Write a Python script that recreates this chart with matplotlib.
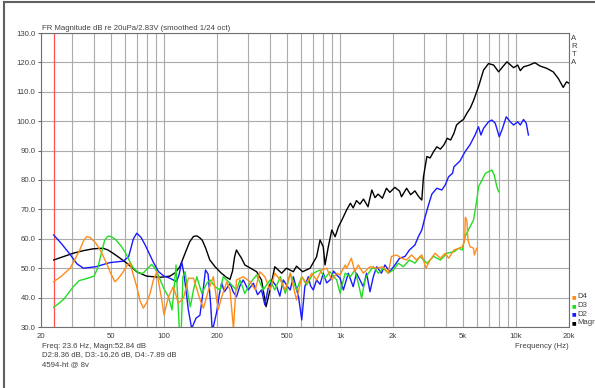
import numpy as np
import matplotlib
matplotlib.use("Agg")
import matplotlib.pyplot as plt
from matplotlib.lines import Line2D

plt.rcParams['font.family'] = ['Liberation Sans', 'DejaVu Sans']

# Magnitude (black)
magn_f = [23.6, 27, 30.5, 35, 39.6, 45, 48, 51.3, 56, 61.5, 70, 79.5, 95, 108, 116, 123, 134, 140, 147,
          153.6, 160, 165, 172, 182, 195, 210, 225, 237, 245, 252, 258, 265, 275, 288, 310, 336, 358,
          380, 400, 426, 466, 496, 543, 566, 613, 676, 736, 770, 803, 822, 858, 898, 938, 980, 1025,
          1090, 1145, 1188, 1240, 1298, 1360, 1442, 1516, 1580, 1645, 1740, 1836, 1918, 2050, 2180,
          2236, 2389, 2520, 2664, 2780, 2850, 2915, 2980, 3116, 3250, 3398, 3548, 3718, 3900, 4065,
          4250, 4440, 4592, 4810, 5030, 5256, 5500, 5734, 6120, 6540, 6980, 7460, 7960, 8400, 8880,
          9690, 10220, 10580, 11030, 11800, 12800, 13660, 14920, 16260, 17360, 18540, 19370, 20000]
magn_db = [52.8, 54.0, 55.1, 56.0, 56.6, 56.8, 56.2, 55.1, 53.5, 51.7, 48.8, 47.3, 46.9, 47.3, 48.5, 50.5, 56.2, 59.0, 60.8,
           61.0, 60.3, 59.5, 57.0, 52.8, 50.5, 48.5, 47.0, 46.2, 49.0, 54.0, 56.2, 55.0, 53.5, 51.1, 50.0, 48.8, 46.0,
           36.9, 42.6, 50.5, 48.3, 50.0, 48.8, 50.7, 48.8, 50.0, 53.9, 59.6, 57.3, 51.1, 57.3, 63.0, 60.7, 64.1, 66.4,
           69.8, 72.1, 70.5, 73.0, 71.8, 73.5, 70.9, 76.6, 74.0, 75.2, 73.8, 77.2, 75.8, 77.5, 76.2,
           74.3, 77.2, 75.0, 76.3, 74.6, 73.8, 73.2, 81.1, 88.0, 87.5, 89.6, 91.3, 90.5, 92.0, 94.2,
           93.6, 95.9, 98.7, 99.8, 100.6, 102.7, 104.5, 107.0, 111.7, 117.4, 119.6, 119.1, 116.8, 118.5, 120.2,
           118.2, 119.1, 117.2, 118.5, 119.0, 119.9, 118.8, 118.0, 116.8, 114.6, 111.5, 113.4, 112.9]

# D2 (blue)
d2_f = [23.6, 26, 29, 32, 34.8, 41, 49.2, 58.7, 62.9, 65, 67, 70, 74, 78, 81.5, 87, 93.1, 100, 108, 118,
        122, 126, 129, 131.8, 137.5, 143.6, 152, 160, 165, 172, 178, 184, 188, 199, 206, 212.7, 220,
        227.5, 237, 247, 258, 270, 282, 301, 322, 340, 358, 374, 390, 409, 437, 455, 476, 500, 521, 543,
        581, 606, 631, 660, 680, 705, 736, 770, 803, 840, 877, 920, 957, 1000, 1045, 1114, 1188, 1240,
        1298, 1356, 1416, 1480, 1546, 1615, 1720, 1798, 1918, 2050, 2180, 2340, 2480, 2664, 2786, 2915,
        3045, 3182, 3325, 3548, 3790, 3960, 4140, 4360, 4440, 4810, 5130, 5480, 5850, 6120, 6320, 6540,
        6980, 7290, 7620, 8030, 8320, 8800, 9270, 9690, 10220, 10580, 11030, 11430, 11760]
d2_db = [61.3, 58.5, 55.0, 51.5, 50.0, 50.5, 51.9, 52.4, 53.9, 57.0, 60.0, 61.9, 60.5, 58.0, 55.6, 52.0, 48.8, 47.3, 46.6, 45.4,
         48.0, 52.2, 49.0, 44.9, 35.8, 29.5, 33.0, 34.0, 40.0, 49.4, 48.0, 38.0, 28.5, 35.0, 41.0, 45.0, 42.0,
         43.2, 44.9, 42.0, 40.3, 44.0, 46.0, 42.6, 44.9, 41.0, 42.6, 37.5, 43.0, 46.0, 43.7, 40.5, 46.0, 44.0, 42.6, 47.1,
         40.3, 32.4, 43.7, 47.1, 44.0, 42.6, 46.0, 44.5, 48.3, 45.0, 46.0, 49.0, 47.7, 46.6, 42.6, 48.3, 43.7, 48.3,
         46.0, 43.7, 48.3, 42.0, 47.1, 50.5, 48.3, 51.1, 48.8, 51.1, 53.4, 54.0, 56.2, 57.9, 60.7, 63.0,
         67.5, 71.5, 75.2, 77.2, 76.6, 78.3, 81.1, 82.3, 84.5, 86.5, 89.6, 92.0, 95.3, 98.1, 95.3, 97.6,
         99.8, 100.4, 99.3, 94.7, 97.0, 101.5, 99.8, 98.7, 99.8, 98.7, 100.6, 99.3, 95.3]

# D3 (green)
d3_f = [23.6, 25, 27, 30.5, 33, 37, 40, 42, 44, 46, 48, 50, 53, 57, 60, 64, 67, 72, 76, 81, 85, 88,
        91, 99.5, 106, 111, 113, 117, 122, 125, 128, 131.8, 137.5, 141, 147, 153.6, 164, 175, 182.6,
        194.8, 208, 217, 237, 258, 270, 288, 308, 336, 366, 400, 426, 458, 489, 521, 566, 606, 646, 705,
        770, 822, 877, 957, 1000, 1070, 1145, 1214, 1270, 1327, 1386, 1449, 1546, 1650, 1760, 1880,
        2008, 2144, 2290, 2480, 2664, 2850, 3116, 3398, 3718, 4065, 4440, 4740, 4960, 5130, 5480, 5734,
        5990, 6120, 6410, 6700, 6980, 7290, 7520, 7780, 7960]
d3_db = [36.7, 37.8, 39.5, 43.7, 45.8, 46.6, 47.3, 50.0, 55.0, 59.5, 60.9, 60.8, 59.8, 57.5, 55.6, 52.2, 50.0, 48.3, 48.3, 50.0, 51.3, 50.3,
         48.8, 43.2, 40.3, 35.8, 40.3, 51.1, 30.1, 27.0, 47.1, 48.8, 40.3, 36.9, 42.6, 47.1, 41.4, 44.9, 46.0,
         43.7, 42.6, 47.1, 44.9, 42.6, 46.0, 41.4, 44.9, 47.7, 42.6, 46.0, 42.6, 47.1, 41.4, 48.3, 42.6, 47.1, 44.3, 48.3,
         49.4, 46.6, 48.8, 46.0, 41.5, 48.3, 47.1, 49.4, 44.9, 39.8, 46.0, 48.3, 50.5, 48.3, 50.0, 48.3,
         49.4, 51.7, 50.5, 52.8, 51.7, 54.0, 51.7, 54.0, 52.8, 55.1, 55.6, 56.8, 56.2, 60.7, 64.1, 66.4,
         73.2, 77.7, 80.0, 82.3, 82.8, 83.4, 81.7, 77.7, 76.0]

# D4 (orange)
d4_f = [23.6, 26, 29.3, 31.5, 33.2, 35, 36.3, 38, 41, 44, 47.1, 50, 52.6, 55, 58.7, 62, 64.1, 66, 70,
        73, 76.3, 80, 83.3, 87, 91, 97.1, 100, 106, 113, 120.7, 129, 137.5, 147, 160.4, 167.5, 179,
        190.6, 203, 212.7, 227.5, 237, 248, 258, 282, 308, 330, 350, 374, 400, 426, 458, 489, 521, 566,
        606, 646, 690, 736, 786, 840, 898, 957, 1000, 1070, 1090, 1160, 1214, 1270, 1356, 1480, 1615,
        1760, 1880, 1960, 2094, 2236, 2389, 2550, 2722, 2915, 3080, 3250, 3470, 3718, 3960, 4140, 4440,
        4740, 4960, 5110, 5150, 5256, 5330, 5480, 5734, 5800, 5990]
d4_db = [45.4, 47.2, 50.0, 53.5, 56.2, 59.5, 60.7, 60.5, 58.5, 55.5, 51.7, 48.0, 45.4, 46.5, 48.8, 51.3, 51.7, 49.0, 43.7,
         39.0, 36.4, 38.5, 41.4, 46.0, 48.8, 39.2, 34.1, 40.3, 43.7, 38.1, 39.8, 46.6, 46.6, 39.2, 36.4, 42.6,
         47.1, 35.8, 40.3, 45.4, 42.6, 29.5, 46.0, 47.1, 45.4, 42.6, 48.8, 47.1, 42.6, 48.3, 46.0, 42.6, 48.3, 39.2,
         47.1, 44.9, 48.3, 46.0, 49.4, 50.0, 46.0, 48.3, 47.7, 51.1, 50.0, 53.4, 48.8, 51.1, 48.3, 50.5, 50.0,
         50.5, 48.3, 54.0, 54.5, 53.4, 52.8, 54.5, 52.8, 54.5, 50.0, 52.8, 55.1, 53.4, 55.1, 53.4, 56.2,
         56.8, 57.3, 59.6, 67.3, 66.4, 59.6, 57.3, 56.8, 54.5, 56.8]

x_ticks = [20, 50, 100, 200, 500, 1000, 2000, 5000, 10000, 20000]
x_labels = ['20', '50', '100', '200', '500', '1k', '2k', '5k', '10k', '20k']
y_ticks = [30, 40, 50, 60, 70, 80, 90, 100, 110, 120, 130]
cursor_freq = 23.6

txt = '#404040'
fs = 5.6

fig = plt.figure(figsize=(5.95, 3.88), dpi=100)
ax = fig.add_axes([41 / 595, 1 - 327 / 388, 528 / 595, 294 / 388])

# grid: every decade subdivision
minor = []
for dec in [10, 100, 1000, 10000]:
    for m in range(1, 10):
        v = dec * m
        if 20 <= v <= 20000:
            minor.append(v)
for v in minor:
    ax.axvline(v, color='#ababab', lw=0.8, zorder=1)
for v in y_ticks:
    ax.axhline(v, color='#ababab', lw=0.8, zorder=1)

ax.axvline(cursor_freq, color='#ff5050', lw=0.9, zorder=2)

ax.plot(magn_f, magn_db, color='black', lw=1.0, zorder=3)
ax.plot(d2_f, d2_db, color='#1a1aff', lw=1.0, zorder=4)
ax.plot(d3_f, d3_db, color='#22dd22', lw=1.0, zorder=5)
ax.plot(d4_f, d4_db, color='#ff8c1a', lw=1.0, zorder=6)

ax.set_xscale('log')
ax.set_xlim(20, 20000)
ax.set_ylim(30, 130)
ax.set_xticks(x_ticks)
ax.set_xticklabels(x_labels)
ax.xaxis.set_minor_locator(matplotlib.ticker.NullLocator())
ax.set_yticks(y_ticks)
ax.set_yticklabels(['%.1f' % v for v in y_ticks])
ax.tick_params(axis='both', labelsize=fs, colors=txt, length=2, width=0.6, pad=2)
ax.tick_params(axis='x', length=0, pad=4)
for s in ax.spines.values():
    s.set_color('#707070')
    s.set_linewidth(0.8)

fig.text(42 / 595, 1 - 28 / 388, 'FR Magnitude dB re 20uPa/2.83V (smoothed 1/24 oct)',
         fontsize=fs, color=txt, ha='left', va='center')
for i, ch in enumerate('ARTA'):
    fig.text(574 / 595, 1 - (38 + 8.2 * i) / 388, ch, fontsize=fs, color=txt, ha='center', va='center')

fig.text(569 / 595, 1 - 346 / 388, 'Frequency (Hz)', fontsize=fs, color=txt, ha='right', va='center')

fig.text(42 / 595, 1 - 346 / 388, 'Freq: 23.6 Hz, Magn:52.84 dB', fontsize=fs, color=txt, va='center')
fig.text(42 / 595, 1 - 354.5 / 388, 'D2:8.36 dB, D3:-16.26 dB, D4:-7.89 dB', fontsize=fs, color=txt, va='center')
fig.text(42 / 595, 1 - 365 / 388, '4594-ht @ 8v', fontsize=fs, color=txt, va='center')

legend_items = [('D4', '#ff8c1a'), ('D3', '#22dd22'), ('D2', '#1a1aff'), ('Magn', 'black')]
for i, (lab, col) in enumerate(legend_items):
    y = 1 - (297 + 8.5 * i) / 388
    fig.text(574 / 595, y, '\u25a0', fontsize=3.5, color=col, ha='center', va='center',
             family=['DejaVu Sans'])
    fig.text(577 / 595, y, lab, fontsize=fs, color=txt, ha='left', va='center')

# window frame lines
fig.add_artist(Line2D([3.5 / 595, 3.5 / 595], [0, 1 - 2 / 388], color='#606060', lw=1.5))
fig.add_artist(Line2D([3.5 / 595, 1], [1 - 2 / 388, 1 - 2 / 388], color='#606060', lw=1.5))

fig.savefig('out.png', dpi=100)
